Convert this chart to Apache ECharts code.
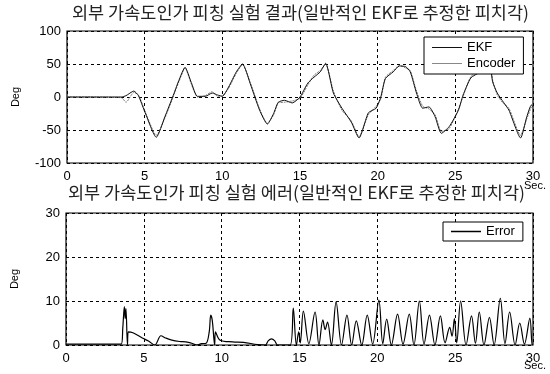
<!DOCTYPE html>
<html>
<head>
<meta charset="utf-8">
<script src="https://cdn.jsdelivr.net/npm/echarts@6/dist/echarts.min.js"></script>
<style>
  html, body { margin: 0; padding: 0; background: #fff; }
  #chart { width: 550px; height: 374px; }
</style>
</head>
<body>
<div id="chart"></div>
<script>
// Pitch angle: EKF estimate vs. encoder reference (degrees over seconds)
const timeTop = [0, 3.5, 3.8, 4.3, 4.6, 5.0, 5.75, 6.3, 6.8, 7.2, 7.6, 8.0, 8.4, 8.9, 9.35, 9.7, 10.0, 10.4, 10.9, 11.3, 11.8, 12.4, 12.9, 13.3, 13.6, 14.0, 14.5, 15.0, 15.5, 15.9, 16.3, 16.65, 17.15, 17.7, 18.3, 18.8, 19.4, 19.9, 20.2, 20.5, 21.0, 21.4, 21.8, 22.1, 22.5, 22.9, 23.3, 23.7, 24.1, 24.6, 25.2, 25.5, 26.0, 26.6, 27.0, 27.2, 27.4, 27.7, 28.1, 28.45, 29.2, 29.6, 29.9, 30];
const ekfDeg = [0, 0, 2, 9, 2, -22, -61, -30, 0, 25, 45, 22, 1, 1, 6, 3, 1, 15, 38, 50, 20, -20, -41, -25, -8, -5, -9, 0, 21, 30, 38, 51, 6, -17, -38, -62, -24, -17, 0, 28, 38, 47, 46, 38, 6, -17, -15, -30, -55, -45, -20, 3, 29, 38, 50, 54, 23, 6, -8, -20, -62, -30, -12, -15];
const encoderDeg = [0, -1, -8, 7, 3, -20, -58, -32, -2, 23, 44, 20, 0, 2, 8, 1, 2, 13, 36, 49, 22, -18, -40, -27, -9, -8, -6, -2, 18, 33, 40, 50, 9, -20, -36, -60, -27, -14, -3, 30, 40, 48, 44, 40, 9, -14, -18, -27, -52, -48, -18, 1, 31, 40, 48, 52, 26, 3, -10, -17, -58, -33, -15, -13];

// Estimation error (degrees over seconds)
const timeErr = [0, 3.55, 3.65, 3.75, 3.8, 3.85, 3.95, 4.0, 4.3, 4.9, 5.3, 5.7, 6.1, 6.4, 6.8, 7.3, 7.7, 8.0, 8.4, 8.7, 9.0, 9.2, 9.3, 9.4, 9.55, 9.6, 9.9, 10.7, 11.4, 12.3, 12.8, 13.0, 13.2, 13.4, 13.6, 14.4,
  14.6, 14.8, 14.95, 15.05, 15.25, 15.6, 16.0, 16.25, 16.5, 16.65, 16.8, 17.05, 17.35, 17.7, 18.05, 18.35, 18.65, 19.0, 19.35, 19.7, 20.1, 20.35, 20.6, 20.9, 21.3, 21.65, 22.05, 22.35, 22.7, 23.0, 23.35, 23.7, 24.05, 24.35, 24.65, 24.8, 24.95, 25.1, 25.35, 25.7, 26.05, 26.3, 26.55, 26.85, 27.2, 27.5, 27.9, 28.2, 28.5, 28.85, 29.15, 29.45, 29.8, 29.95, 30];
const errDeg = [0.2, 0.2, 4, 8.7, 6, 8.3, 0, 3, 2.8, 1.6, 0.9, 0, 2.1, 1.6, 1.1, 0.8, 0.7, 0.5, 0, 0.3, 0.4, 3, 6.8, 5.5, 0, 3, 1.1, 0.7, 0.6, 0.1, 0, 1.0, 1.4, 1.0, 0, 0,
  8.4, 0, 3, 0.5, 7.7, 0.3, 7.5, 0, 5.7, 3.5, 5.2, 0, 9.8, 0, 6.8, 0, 5.5, 0, 6.8, 0.2, 10.2, 0.3, 5.9, 0, 7, 0.2, 7, 0, 10, 0.2, 6.8, 0, 6.6, 0.5, 4, 2, 6, 0.5, 10, 0, 6.6, 0.4, 7.5, 0, 6.3, 0, 10.6, 0.3, 7.5, 0, 5, 0.2, 6.1, 0, 0];

const topTitle = '외부 가속도인가 피칭 실험 결과(일반적인 EKF로 추정한 피치각)';
const bottomTitle = '외부 가속도인가 피칭 실험 에러(일반적인 EKF로 추정한 피치각)';

const pairs = (xs, ys) => xs.map((x, i) => [x, ys[i]]);

const textFont = 'Liberation Sans, Arial, sans-serif';
const gridLine = { show: true, lineStyle: { color: '#000', type: [3, 3], width: 1 } };
const axisLabel = { color: '#000', fontFamily: textFont, fontSize: 13 };
const titleStyle = { fontFamily: 'Noto Sans CJK KR', fontSize: 17.5, fontWeight: 'normal', color: '#222' };

function xAxis(gridIndex) {
  return {
    type: 'value', gridIndex, min: 0, max: 30, interval: 5,
    axisLine: { show: false }, axisTick: { show: false },
    axisLabel: Object.assign({ margin: 7 }, axisLabel),
    splitLine: gridLine
  };
}
function yAxis(gridIndex, min, max, interval) {
  return {
    type: 'value', gridIndex, min, max, interval,
    name: 'Deg', nameLocation: 'middle', nameGap: 46, nameRotate: 90,
    nameTextStyle: { color: '#000', fontFamily: textFont, fontSize: 11 },
    axisLine: { show: false }, axisTick: { show: false },
    axisLabel: Object.assign({ margin: 6 }, axisLabel),
    splitLine: gridLine
  };
}

const chart = echarts.init(document.getElementById('chart'), null, { renderer: 'canvas' });
chart.setOption({
  backgroundColor: '#fff',
  animation: false,
  title: [
    { text: topTitle, left: 72, top: 4, textStyle: titleStyle, padding: 0 },
    { text: bottomTitle, left: 68, top: 184, textStyle: titleStyle, padding: 0 }
  ],
  grid: [
    { left: 67, right: 17, top: 31, height: 132, show: true, borderColor: '#000', borderWidth: 1.2, backgroundColor: 'transparent' },
    { left: 66, right: 17, top: 213, height: 132, show: true, borderColor: '#000', borderWidth: 1.2, backgroundColor: 'transparent' }
  ],
  xAxis: [xAxis(0), xAxis(1)],
  yAxis: [yAxis(0, -100, 100, 50), yAxis(1, 0, 30, 10)],
  legend: [
    {
      data: ['EKF', 'Encoder'], orient: 'vertical', left: 424, top: 37,
      backgroundColor: '#fff', borderColor: '#000', borderWidth: 1, borderRadius: 0,
      padding: [4, 8, 4, 8], itemGap: 3, itemWidth: 30, itemHeight: 1, icon: 'rect',
      textStyle: { color: '#000', fontFamily: textFont, fontSize: 13 }
    },
    {
      data: ['Error'], orient: 'vertical', left: 443, top: 222,
      backgroundColor: '#fff', borderColor: '#000', borderWidth: 1, borderRadius: 0,
      padding: [3, 8, 3, 8], itemWidth: 30, itemHeight: 1.5, icon: 'rect',
      textStyle: { color: '#000', fontFamily: textFont, fontSize: 13 }
    }
  ],
  graphic: [
    { type: 'text', left: 524, top: 180, style: { text: 'Sec.', fill: '#000', font: '11px Liberation Sans, Arial, sans-serif' } },
    { type: 'text', left: 524, top: 360, style: { text: 'Sec.', fill: '#000', font: '11px Liberation Sans, Arial, sans-serif' } }
  ],
  series: [
    {
      name: 'Encoder', type: 'line', xAxisIndex: 0, yAxisIndex: 0,
      data: pairs(timeTop, encoderDeg), symbol: 'none', smooth: 0.2,
      itemStyle: { color: '#888' },
      lineStyle: { color: '#777', width: 1, type: [2, 1] }
    },
    {
      name: 'EKF', type: 'line', xAxisIndex: 0, yAxisIndex: 0,
      data: pairs(timeTop, ekfDeg), symbol: 'none', smooth: 0.2,
      itemStyle: { color: '#111' },
      lineStyle: { color: '#111', width: 1 }
    },
    {
      name: 'Error', type: 'line', xAxisIndex: 1, yAxisIndex: 1,
      data: pairs(timeErr, errDeg), symbol: 'none', smooth: 0.35,
      itemStyle: { color: '#000' },
      lineStyle: { color: '#000', width: 1.2 }
    }
  ]
});
</script>
</body>
</html>
